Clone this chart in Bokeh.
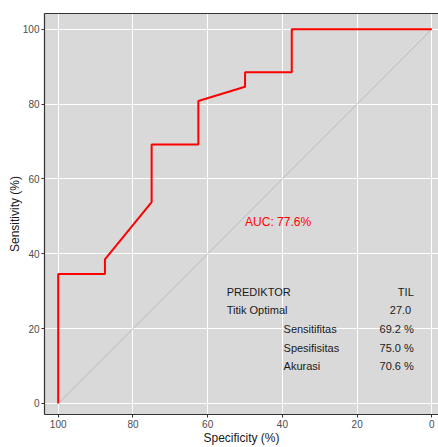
from bokeh.plotting import figure
from bokeh.models import Range1d, FixedTicker, LinearAxis, Label
from bokeh.embed import file_html
from bokeh.resources import INLINE

# ROC curve data (specificity %, sensitivity %)
specificity = [100, 100, 87.5, 87.5, 75, 75, 62.5, 62.5, 50, 50, 37.5, 37.5, 0]
sensitivity = [0, 34.6, 34.6, 38.5, 53.8, 69.2, 69.2, 80.8, 84.6, 88.5, 88.5, 100, 100]
ticks = [0, 20, 40, 60, 80, 100]

x_title = "Specificity (%)"
y_title = "Sensitivity (%)"
auc_text = "AUC: 77.6%"
table_left_1 = ["PREDIKTOR", "Titik Optimal"]
table_left_2 = ["Sensitifitas", "Spesifisitas", "Akurasi"]
table_right = ["TIL", "27.0", "69.2 %", "75.0 %", "70.6 %"]

FONT = "Liberation Sans"
TXT = "#1a1a1a"

p = figure(width=438, height=447, output_backend="svg", toolbar_location=None,
           x_range=Range1d(103.67, -1.77), y_range=Range1d(-2.94, 104.19),
           min_border_left=44, min_border_right=0, min_border_top=13, min_border_bottom=30)
p.background_fill_color = "#d9d9d9"
p.border_fill_color = "white"
p.outline_line_color = None

for ax in (p.xaxis[0], p.yaxis[0]):
    ax.ticker = FixedTicker(ticks=ticks)
    ax.minor_tick_line_color = None
    ax.major_tick_in = 0
    ax.major_tick_out = 3
    ax.major_tick_line_color = "#333333"
    ax.axis_line_color = "#333333"
    ax.axis_line_width = 1.2
    ax.major_label_text_font = FONT
    ax.major_label_text_font_size = "10px"
    ax.major_label_text_color = "#4d4d4d"
    ax.major_label_standoff = 2
    ax.axis_label_text_font = FONT
    ax.axis_label_text_font_size = "12px"
    ax.axis_label_text_font_style = "normal"
    ax.axis_label_text_color = TXT

p.xaxis.axis_label = x_title
p.yaxis.axis_label = y_title
p.xaxis.axis_label_standoff = 0
p.yaxis.axis_label_standoff = -2

top = LinearAxis(ticker=FixedTicker(ticks=[]), major_label_text_font_size="0px",
                 major_tick_out=0, major_tick_in=0, minor_tick_line_color=None,
                 axis_line_color="#333333", axis_line_width=1.2, major_label_standoff=0)
p.add_layout(top, "above")

p.xgrid.ticker = FixedTicker(ticks=ticks)
p.ygrid.ticker = FixedTicker(ticks=ticks)
p.grid.grid_line_color = "white"
p.grid.grid_line_width = 1

p.line([100, 0], [0, 100], line_color="#a9a9a9", line_width=0.7)
p.line(specificity, sensitivity, line_color="#ff0000", line_width=2)

p.add_layout(Label(x=50, y=48.6, text=auc_text, text_color="#ff0000", text_font=FONT,
                   text_font_size="12px", text_baseline="middle", text_align="left"))

left_rows_1 = [29.7, 25.0]
left_rows_2 = [19.8, 14.9, 9.9]
right_rows = [29.7, 25.0, 19.8, 14.9, 9.9]
right_x = [4.85, 5.54, 4.85, 4.85, 4.85]
for t, y in zip(table_left_1, left_rows_1):
    p.add_layout(Label(x=54.9, y=y, text=t, text_color=TXT, text_font=FONT,
                       text_font_size="11px", text_baseline="middle", text_align="left"))
for t, y in zip(table_left_2, left_rows_2):
    p.add_layout(Label(x=39.7, y=y, text=t, text_color=TXT, text_font=FONT,
                       text_font_size="11px", text_baseline="middle", text_align="left"))
for t, y, x in zip(table_right, right_rows, right_x):
    p.add_layout(Label(x=x, y=y, text=t, text_color=TXT, text_font=FONT,
                       text_font_size="11px", text_baseline="middle", text_align="right"))

open("out.html", "w").write(file_html(p, INLINE))
